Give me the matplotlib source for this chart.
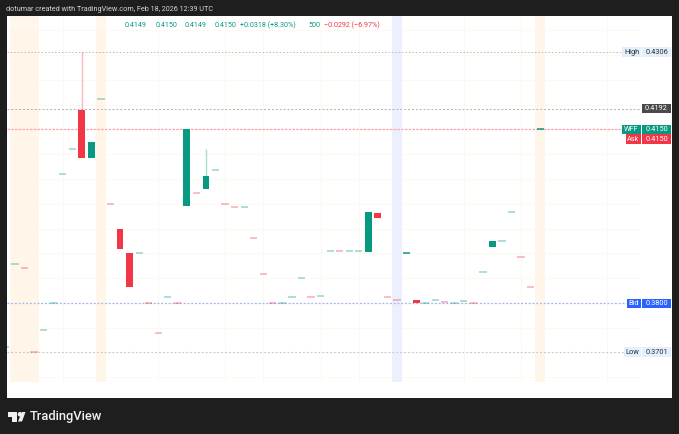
import matplotlib
matplotlib.use("Agg")
import matplotlib.pyplot as plt
from matplotlib.patches import Polygon, Rectangle, Circle

W, H = 679, 434
DARK = "#1e1e1e"
GREEN = "#089981"
RED = "#f23645"
BLUE = "#2962ff"

# candles, bar 0 sits at the first session band
bar_index = list(range(-1, 56))
opens = [0.3711, 0.3878, 0.3870, 0.3701, 0.3745, 0.3800, 0.4059, 0.4110, 0.4189, 0.4092,
         0.4211, 0.4000, 0.3950, 0.3900, 0.3900, 0.3800, 0.3739, 0.3812, 0.3800, 0.3995,
         0.4021, 0.4029, 0.4068, 0.4000, 0.3993, 0.3993, 0.3930, 0.3858, 0.3800, 0.3800,
         0.3811, 0.3850, 0.3811, 0.3814, 0.3904, 0.3904, 0.3904, 0.3904, 0.3903, 0.3981,
         0.3811, 0.3806, 0.3900, 0.3806, 0.3800, 0.3806, 0.3802, 0.3800, 0.3804, 0.3800,
         0.3862, 0.3912, 0.3925, 0.3984, 0.3893, 0.3832, 0.4150]
closes = [0.3711, 0.3878, 0.3870, 0.3701, 0.3745, 0.3800, 0.4059, 0.4110, 0.4092, 0.4124,
          0.4211, 0.4000, 0.3909, 0.3832, 0.3900, 0.3800, 0.3739, 0.3812, 0.3800, 0.4150,
          0.4021, 0.4055, 0.4068, 0.4000, 0.3993, 0.3993, 0.3930, 0.3858, 0.3800, 0.3800,
          0.3811, 0.3850, 0.3811, 0.3814, 0.3904, 0.3904, 0.3904, 0.3904, 0.3984, 0.3972,
          0.3811, 0.3806, 0.3900, 0.3800, 0.3800, 0.3806, 0.3802, 0.3800, 0.3804, 0.3800,
          0.3862, 0.3925, 0.3925, 0.3984, 0.3893, 0.3832, 0.4150]
rising = [1, 1, 0, 0, 1, 1, 1, 1, 0, 1,
          1, 0, 0, 0, 1, 0, 0, 1, 0, 1,
          0, 1, 1, 0, 0, 1, 0, 0, 0, 1,
          1, 1, 0, 1, 1, 0, 1, 1, 1, 0,
          0, 0, 1, 0, 1, 1, 0, 1, 1, 0,
          1, 1, 1, 1, 0, 0, 1]
wick_bars = [7, 20]
wick_tops = [0.4306, 0.4110]
dark_dashes = [41, 55]

session_orange = [(-0.5, 2.5), (8.5, 9.5), (54.5, 55.5)]
session_blue = [(39.5, 40.5)]
grid_bars = [5, 15, 22, 26, 32, 36, 47, 53, 62]
grid_prices = [0.365, 0.37, 0.375, 0.38, 0.385, 0.39, 0.395, 0.40, 0.405, 0.41, 0.42, 0.425, 0.43, 0.435]

high_price, low_price, bid_price, ask_price, last_price, cross_price = 0.4306, 0.3701, 0.3800, 0.4150, 0.4150, 0.4192

legend_values = ["0.4149", "0.4150", "0.4149", "0.4150", "+0.0318 (+8.30%)"]
legend_x = [125, 155.5, 184.5, 214.5, 240]

fig = plt.figure(figsize=(W / 100, H / 100), dpi=100, facecolor=DARK)
plt.rcParams["font.family"] = ["Roboto", "DejaVu Sans"]

# chart panel, white part of the screenshot
ax = fig.add_axes([7 / W, 1 - 398 / H, 665 / W, 382 / H])
ax.set_xlim(-0.838, 68.8)
ax.set_ylim(0.36082, 0.43786)
ax.set_facecolor("white")
ax.set_xticks([])
ax.set_yticks([])
for s in ax.spines.values():
    s.set_visible(False)

pane_right = 65.55
pane_bottom = 0.36405

for a, b in session_orange:
    ax.fill_between([a, b], pane_bottom, 0.43786, color="#fff5e8", lw=0, zorder=1)
for a, b in session_blue:
    ax.fill_between([a, b], pane_bottom, 0.43786, color="#ecf0fe", lw=0, zorder=1)

ax.hlines(grid_prices, -0.838, pane_right, color="#fdf9ee", lw=0.7, zorder=0.5)
ax.vlines(grid_bars, pane_bottom, 0.43786, color="#fbf9ef", lw=0.7, zorder=0.5)

ax.hlines(high_price, -0.838, 63.7, color="#b8b8b8", lw=0.7, ls=(0, (1.5, 2)), zorder=2)
ax.hlines(low_price, -0.838, 63.9, color="#c4c4c4", lw=0.8, ls=(0, (1.5, 2)), zorder=2)
ax.hlines(cross_price, -0.838, 65.6, color="#b0b0b0", lw=0.7, ls=(0, (2, 2)), zorder=2)
ax.hlines(last_price, -0.838, 63.7, color="#f9a3aa", lw=0.9, ls=(0, (2, 1)), zorder=2.5)
ax.hlines(bid_price, -0.838, 64, color="#9fb6f7", lw=0.9, ls=(0, (1.5, 1.5)), zorder=2)

for x, top in zip(wick_bars, wick_tops):
    i = bar_index.index(x)
    c = GREEN if rising[i] else RED
    ax.vlines(x, max(opens[i], closes[i]), top, color=c, lw=1.0, alpha=0.35, zorder=3)

for x, o, c, up in zip(bar_index, opens, closes, rising):
    col = GREEN if up else RED
    lo, hi = min(o, c), max(o, c)
    if hi - lo < 0.0003:
        # flat hours show up as short pale dashes
        alpha = 1.0 if x in dark_dashes else 0.42
        ax.hlines(o, x - 0.38, x + 0.38, color=col, lw=1.1, alpha=alpha, zorder=4)
    else:
        ax.bar(x, hi - lo, bottom=lo, width=0.72, color=col, lw=0, zorder=4)

# price scale labels, boxes in pixels on an overlay
ov = fig.add_axes([0, 0, 1, 1], facecolor="none")
ov.set_xlim(0, W)
ov.set_ylim(H, 0)
ov.axis("off")


def price_y(p):
    return H - ax.transData.transform((0, p))[1]


def tag(p, x0, x1, text, bg, fg, dy=0.0, h=9.5):
    y = price_y(p) + dy
    ov.add_patch(Rectangle((x0, y - h / 2), x1 - x0, h, fc=bg, ec="none", zorder=5))
    ov.text((x0 + x1) / 2, y + 0.1, text, color=fg, fontsize=5.3, ha="center", va="center", zorder=6)


pale = "#e3effd"
ink = "#2a2e39"
tag(high_price, 622, 641, "High", pale, ink)
tag(high_price, 642, 671, "0.4306", pale, ink)
tag(cross_price, 642, 671, "0.4192", "#4a4a4a", "white")
tag(last_price, 622, 641, "WFF", GREEN, "white")
tag(last_price, 642, 671, "0.4150", GREEN, "white")
tag(ask_price, 626, 641, "Ask", RED, "white", dy=9.6)
tag(ask_price, 642, 671, "0.4150", RED, "white", dy=9.6)
tag(bid_price, 627, 641, "Bid", BLUE, "white", dy=0.5)
tag(bid_price, 642, 671, "0.3800", BLUE, "white", dy=0.5)
tag(low_price, 624, 641, "Low", pale, ink)
tag(low_price, 642, 671, "0.3701", pale, ink)

# header and legend row
ov.text(6, 9.5, "dotumar created with TradingView.com, Feb 18, 2026 12:39 UTC", color="#d6d6d6",
        fontsize=5.2, ha="left", va="center")
ov.text(8, 25.5, "WFF Hourly", color="white", fontsize=5.1, ha="left", va="center")
ov.text(96, 25.5, "Vol", color="white", fontsize=5.1, ha="left", va="center")
for x, t in zip(legend_x, legend_values):
    ov.text(x, 25.5, t, color=GREEN, fontsize=5.1, ha="left", va="center")
ov.text(308, 25.5, "500", color=GREEN, fontsize=5.1, ha="left", va="center")
ov.text(324, 25.5, "\u22120.0292 (\u22126.97%)", color=RED, fontsize=5.1, ha="left", va="center")

# logo
ov.add_patch(Polygon([(7.5, 412), (17, 412), (17, 421.5), (12, 421.5), (12, 416.5), (7.5, 416.5)], fc="#f0f0f0", ec="none"))
ov.add_patch(Circle((20, 414.3), 2.3, fc="#f0f0f0", ec="none"))
ov.add_patch(Polygon([(18, 421.5), (22, 412), (25.5, 412), (22, 421.5)], fc="#f0f0f0", ec="none"))
ov.text(29.5, 416.5, "TradingView", color="#f0f0f0", fontsize=9.3, fontweight="medium", ha="left", va="center")

fig.savefig("out.png", dpi=100, facecolor=DARK)
